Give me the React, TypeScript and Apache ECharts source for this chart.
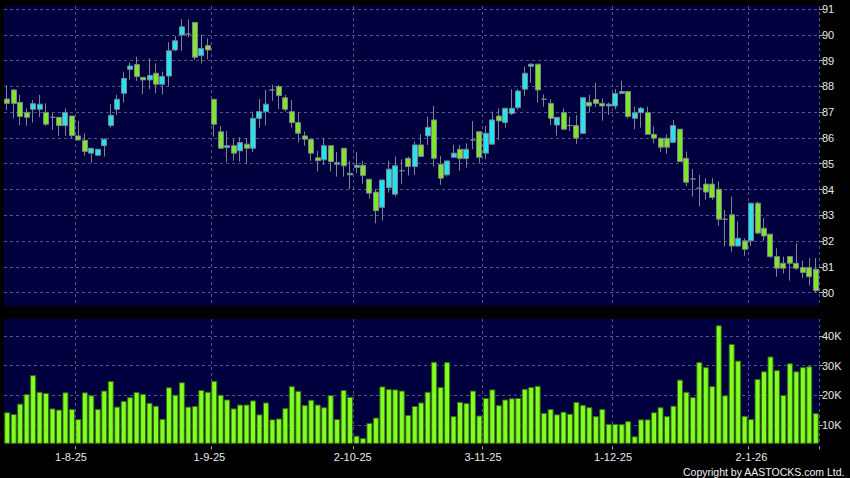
import React, { useEffect, useRef } from "react";
import * as echarts from "echarts";

// Trading days (d-m-yy), 17 Jul 2025 .. 16 Jan 2026
const dates: string[] = [
  "17-7-25","18-7-25","21-7-25","22-7-25","23-7-25","24-7-25","25-7-25","28-7-25","29-7-25","30-7-25","31-7-25",
  "1-8-25","4-8-25","5-8-25","6-8-25","7-8-25","8-8-25","11-8-25","12-8-25","13-8-25","14-8-25","15-8-25","18-8-25","19-8-25","20-8-25","21-8-25","22-8-25","25-8-25","26-8-25","27-8-25","28-8-25","29-8-25",
  "1-9-25","2-9-25","3-9-25","4-9-25","5-9-25","8-9-25","9-9-25","10-9-25","11-9-25","12-9-25","15-9-25","16-9-25","17-9-25","18-9-25","19-9-25","22-9-25","23-9-25","24-9-25","25-9-25","26-9-25","29-9-25","30-9-25",
  "2-10-25","3-10-25","6-10-25","8-10-25","9-10-25","10-10-25","13-10-25","14-10-25","15-10-25","16-10-25","17-10-25","20-10-25","21-10-25","22-10-25","23-10-25","24-10-25","27-10-25","28-10-25","30-10-25","31-10-25",
  "3-11-25","4-11-25","5-11-25","6-11-25","7-11-25","10-11-25","11-11-25","12-11-25","13-11-25","14-11-25","17-11-25","18-11-25","19-11-25","20-11-25","21-11-25","24-11-25","25-11-25","26-11-25","27-11-25","28-11-25",
  "1-12-25","2-12-25","3-12-25","4-12-25","5-12-25","8-12-25","9-12-25","10-12-25","11-12-25","12-12-25","15-12-25","16-12-25","17-12-25","18-12-25","19-12-25","22-12-25","23-12-25","24-12-25","29-12-25","30-12-25","31-12-25",
  "2-1-26","5-1-26","6-1-26","7-1-26","8-1-26","9-1-26","12-1-26","13-1-26","14-1-26","15-1-26","16-1-26",
];

const opens: number[] = [
  87.51,87.86,87.38,86.99,87.11,87.11,86.99,86.80,86.80,86.48,86.85,86.08,85.91,85.41,85.33,85.70,86.48,87.11,87.73,88.66,
  88.85,88.35,88.25,88.51,88.08,88.40,89.41,89.99,90.03,90.48,89.19,89.58,87.50,86.24,85.63,85.70,85.50,85.76,85.60,86.76,
  87.02,87.86,87.99,87.56,87.02,86.60,86.08,85.95,85.23,85.15,85.70,84.98,85.60,84.63,84.86,84.94,84.40,83.90,83.31,84.07,
  83.82,84.73,85.21,84.89,85.73,86.08,86.70,84.98,84.57,85.25,85.56,85.20,85.92,86.24,85.41,85.76,86.85,86.60,86.95,87.18,
  87.89,88.78,88.86,87.50,87.34,86.50,86.99,86.48,86.48,86.18,87.38,87.49,87.34,87.24,87.24,87.73,87.80,86.76,86.98,86.98,
  86.14,85.99,85.99,85.83,86.34,85.21,84.41,84.05,84.21,84.21,84.01,82.85,83.02,81.81,82.01,82.01,83.47,82.50,82.27,81.40,
  81.14,81.40,81.14,80.98,80.98,80.91,
];
const closes: number[] = [
  87.34,87.34,86.83,86.80,87.33,87.31,86.53,86.80,86.48,86.99,86.09,85.92,85.47,85.60,85.56,85.95,86.88,87.50,88.31,88.79,
  88.38,88.25,88.42,88.08,88.38,89.38,89.77,90.31,90.03,89.13,89.47,89.41,86.53,85.60,85.70,85.41,85.82,85.60,86.76,87.02,
  87.31,87.86,87.64,87.11,86.60,86.18,85.95,85.41,85.12,85.70,85.08,85.04,84.92,84.57,84.94,84.54,83.86,83.18,84.37,84.79,
  84.92,84.73,84.89,85.73,85.28,86.41,85.21,84.44,85.11,85.41,85.20,85.56,85.92,85.25,86.18,86.70,86.66,87.15,87.15,87.82,
  88.51,88.86,87.86,87.50,86.76,86.80,86.34,86.48,85.99,87.56,87.24,87.34,87.24,87.31,87.72,87.80,86.83,86.98,87.15,86.14,
  85.99,85.64,85.64,86.48,85.08,84.28,84.41,84.05,83.90,83.69,82.85,82.85,81.81,82.11,81.68,83.47,82.31,82.20,81.40,80.95,
  80.95,81.14,80.95,80.78,80.62,80.08,
];
const lows: number[] = [
  87.09,86.76,86.50,86.47,86.60,86.80,86.47,86.31,86.08,86.08,85.99,85.92,85.31,85.04,85.30,85.28,86.40,86.89,87.37,88.25,
  88.21,87.69,87.89,87.73,87.69,88.02,89.37,89.38,89.90,89.02,88.89,89.05,86.05,85.60,85.06,85.12,85.08,84.98,85.45,86.40,
  86.48,87.44,87.12,87.02,86.40,85.82,85.70,85.11,84.70,84.95,84.70,84.50,84.50,84.02,84.63,84.22,83.64,82.69,82.80,83.88,
  83.73,84.22,84.54,84.57,85.28,85.73,84.89,84.18,84.50,85.25,84.73,84.85,85.57,85.04,85.18,85.76,85.92,86.40,86.89,87.09,
  87.63,88.14,87.37,87.21,86.50,86.09,86.34,86.27,85.77,86.18,86.99,87.21,86.67,86.89,87.11,87.73,86.75,86.34,86.40,86.14,
  85.79,85.47,85.38,85.83,85.08,84.14,83.73,83.34,83.60,83.60,82.59,81.79,81.59,81.79,81.43,81.81,82.28,82.01,81.34,80.62,
  80.75,80.47,80.88,80.56,80.28,80.00,
];
const highs: number[] = [
  88.04,87.90,87.67,87.15,87.47,87.67,87.34,86.96,86.82,87.15,86.85,86.66,86.18,85.60,85.56,85.99,87.32,87.67,88.57,88.92,
  89.15,88.35,89.09,88.89,88.57,89.71,89.95,90.60,90.60,90.48,90.00,89.86,87.50,86.46,86.27,85.95,86.03,86.00,87.02,87.51,
  87.86,88.06,88.06,87.67,87.47,86.98,86.25,85.95,85.50,85.99,85.70,85.45,85.60,85.11,85.45,85.11,84.40,84.02,84.37,85.11,
  85.28,85.17,85.28,85.86,86.14,86.83,87.24,85.30,85.11,85.73,85.73,85.79,86.66,86.24,86.46,87.02,87.15,87.15,87.89,87.89,
  88.77,88.89,88.86,87.69,87.50,86.80,87.15,86.83,86.89,87.56,87.67,88.14,87.53,87.37,87.89,88.21,87.80,87.21,87.21,87.21,
  86.44,85.99,86.14,86.70,86.34,85.47,84.79,84.57,84.44,84.44,84.31,83.21,83.73,82.76,82.11,83.49,83.53,82.89,82.27,81.72,
  81.40,81.40,81.92,81.24,81.34,81.34,
];
const volumes: number[] = [
  14300,13700,17200,20400,26800,21200,20800,15600,15200,21000,15400,12000,21000,20000,15400,21600,24800,16200,18100,19400,
  21100,20500,17500,16500,12100,22700,20200,24400,16200,16400,21800,21200,24900,20200,18600,15600,16900,16900,18300,13600,
  17600,11900,12200,15700,23100,21500,16700,18500,16900,16000,20100,12000,21800,19500,6400,5600,10700,12500,23000,22100,
  22000,21600,13400,16400,17600,21200,31300,22800,31200,13000,17800,17400,21600,13200,19100,22000,16700,18600,19000,19100,
  22200,22800,23200,14100,15400,13600,14500,13800,17800,16800,16000,13000,15400,10400,10400,10300,11300,6200,11900,11900,
  14300,16000,13000,16500,25300,21200,19400,31200,29500,23100,43600,20000,37300,31700,13100,12000,25500,28100,33100,28500,
  20100,30800,28100,29500,29800,14000,
];

const priceTicks: number[] = [80, 81, 82, 83, 84, 85, 86, 87, 88, 89, 90, 91];
const volumeTicks: number[] = [10000, 20000, 30000, 40000];
const monthStarts: string[] = ["1-8-25", "1-9-25", "2-10-25", "3-11-25", "1-12-25", "2-1-26"];

const FONT = "'Liberation Sans', Arial, sans-serif";

export default function App() {
  const ref = useRef<HTMLDivElement>(null);
  useEffect(() => {
    document.body.style.margin = "0";
    const chart = echarts.init(ref.current!, null, { renderer: "svg" });
    const monthIdx = monthStarts.map((d) => dates.indexOf(d));
    const isMonth = (i: number) => monthIdx.indexOf(i) >= 0;
    const candleData = dates.map((_, i) => [opens[i], closes[i], lows[i], highs[i]]);
    const gridLine = { color: "#52528e", type: [3, 3] as any, width: 1 };
    const labelShift = [-7.4, -4.9, -3.8, -2.9, -2.2, 0.3];
    const rich: any = {};
    labelShift.forEach((s, k) => {
      rich["m" + k] = {
        color: "#e8e8e8",
        fontSize: 11,
        fontFamily: FONT,
        padding: s < 0 ? [0, -2 * s, 0, 0] : [0, 0, 0, 2 * s],
      };
    });

    const option: any = {
      animation: false,
      backgroundColor: "#000000",
      grid: [
        { left: 4, right: 31, top: 6, height: 300, show: true, backgroundColor: "#00003f", borderWidth: 0 },
        { left: 4, right: 31, top: 319, height: 124.3, show: true, backgroundColor: "#00003f", borderWidth: 0 },
      ],
      xAxis: [
        {
          type: "category",
          gridIndex: 0,
          data: dates,
          boundaryGap: true,
          axisLine: { show: false },
          axisTick: { show: false },
          axisLabel: { show: false },
          splitLine: { show: true, interval: (i: number) => isMonth(i), lineStyle: gridLine },
        },
        {
          type: "category",
          gridIndex: 1,
          data: dates,
          boundaryGap: true,
          offset: 3,
          axisLine: { show: false },
          axisTick: { show: true, length: 3, interval: (i: number) => isMonth(i), lineStyle: { color: "#aaaaaa" } },
          axisLabel: {
            interval: (i: number) => isMonth(i),
            margin: 5,
            color: "#e8e8e8",
            fontSize: 11,
            fontFamily: FONT,
            formatter: (v: string, i: number) => "{m" + monthIdx.indexOf(i) + "|" + v + "}",
            rich,
          },
          splitLine: { show: true, interval: (i: number) => isMonth(i), lineStyle: gridLine },
        },
      ],
      yAxis: [
        {
          type: "value",
          gridIndex: 0,
          position: "right",
          min: 79.484,
          max: 91.116,
          axisLine: { show: false },
          axisTick: { show: true, length: 4, customValues: priceTicks, lineStyle: { color: "#aaaaaa" } },
          axisLabel: { customValues: priceTicks, margin: 3, color: "#e8e8e8", fontSize: 11, fontFamily: FONT },
          splitLine: { show: false },
        },
        {
          type: "value",
          gridIndex: 1,
          position: "right",
          min: 3842,
          max: 45720,
          axisLine: { show: false },
          axisTick: { show: true, length: 4, customValues: volumeTicks, lineStyle: { color: "#aaaaaa" } },
          axisLabel: {
            customValues: volumeTicks,
            margin: 3,
            color: "#e8e8e8",
            fontSize: 11,
            fontFamily: FONT,
            formatter: (v: number) => v / 1000 + "K",
          },
          splitLine: { show: false },
        },
      ],
      series: [
        {
          type: "candlestick",
          xAxisIndex: 0,
          yAxisIndex: 0,
          data: candleData,
          barWidth: 5.5,
          itemStyle: {
            color: "#20e4f2",
            color0: "#7ee42c",
            borderColor: "#7c838c",
            borderColor0: "#7c838c",
            borderColorDoji: "#7c838c",
            borderWidth: 1,
          },
          markLine: {
            z: 1,
            silent: true,
            symbol: "none",
            label: { show: false },
            lineStyle: gridLine,
            data: priceTicks.map((v) => ({ yAxis: v })),
          },
        },
        {
          type: "bar",
          xAxisIndex: 1,
          yAxisIndex: 1,
          data: volumes,
          barWidth: 6,
          itemStyle: { color: "#82fd22", borderColor: "#356f0e", borderWidth: 1 },
          markLine: {
            z: 1,
            silent: true,
            symbol: "none",
            label: { show: false },
            lineStyle: gridLine,
            data: volumeTicks.map((v) => ({ yAxis: v })),
          },
        },
      ],
      graphic: [
        {
          type: "text",
          right: 5,
          top: 466,
          style: { text: "Copyright by AASTOCKS.com Ltd.", fill: "#f0f0f0", font: "10.5px " + FONT },
        },
      ],
    };
    chart.setOption(option);
    return () => chart.dispose();
  }, []);
  return <div ref={ref} style={{ width: 850, height: 478 }} />;
}
